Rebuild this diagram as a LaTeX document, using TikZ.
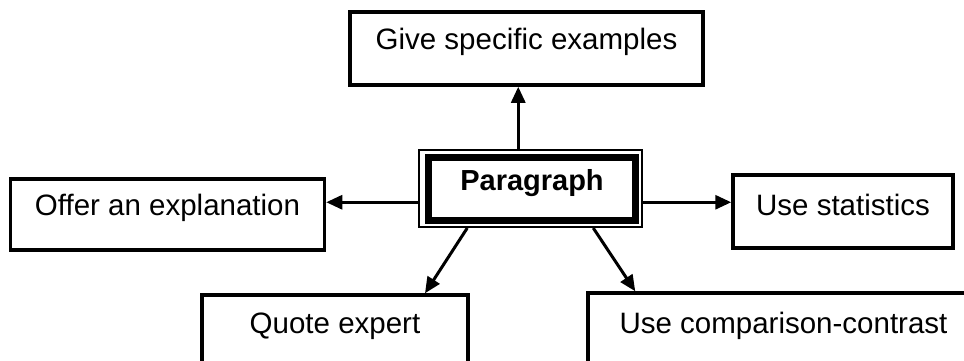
\documentclass[tikz,border=0pt]{standalone}
\usepackage{fontspec}
\setmainfont{Liberation Sans}
\usetikzlibrary{arrows.meta,calc}
\begin{document}
\begin{tikzpicture}[x=1pt,y=-1pt,
  box/.style={draw=black,line width=3.5pt,fill=white,inner sep=0pt,
    font=\fontsize{29.5}{33}\selectfont,text height=20pt,text depth=18pt},
  conn/.style={line width=3pt,-{Triangle[length=16pt,width=14pt]}}]
\useasboundingbox (0,0) rectangle (964,360);
\fill[white] (0,0) rectangle (964,360);
% central node
\node[draw=black,line width=2pt,minimum width=223.5pt,minimum height=77.5pt,inner sep=0pt] (para) at (530.25,188.25) {};
\node[draw=black,line width=7pt,minimum width=207pt,minimum height=63pt,inner sep=0pt,
  font=\bfseries\fontsize{29}{33}\selectfont,text height=20pt,text depth=16pt] (parain) at (532,188.5) {Paragraph};
% surrounding boxes
\node[box,minimum width=353pt,minimum height=73pt] (ex) at (526.5,48.5) {Give specific examples};
\node[box,minimum width=314pt,minimum height=71pt] (offer) at (167.5,214.5) {Offer an explanation};
\node[box,minimum width=220pt,minimum height=73pt,text depth=13pt] (stats) at (843,211.5) {Use statistics};
\node[box,minimum width=266pt,minimum height=75pt] (quote) at (335,332.5) {Quote expert};
\node[box,minimum width=391pt,minimum height=79pt] (comp) at (783.5,332.5) {Use comparison-contrast};
% connectors
\coordinate (pu) at ($(para.north)+(-12,0)$);
\draw[conn] (pu) -- (pu |- ex.south);
\coordinate (pl) at ($(para.west)+(0,14)$);
\draw[conn] (pl) -- (pl -| offer.east);
\coordinate (pr) at ($(para.east)+(0,14)$);
\draw[conn] (pr) -- (pr -| stats.west);
\coordinate (pbl) at ($(para.south)+(-63,0)$);
\draw[conn] (pbl) -- ($(quote.north)+(90,0)$);
\coordinate (pbr) at ($(para.south)+(63,0)$);
\draw[conn] (pbr) -- ($(comp.north west)+(49,0)$);
\end{tikzpicture}
\end{document}
